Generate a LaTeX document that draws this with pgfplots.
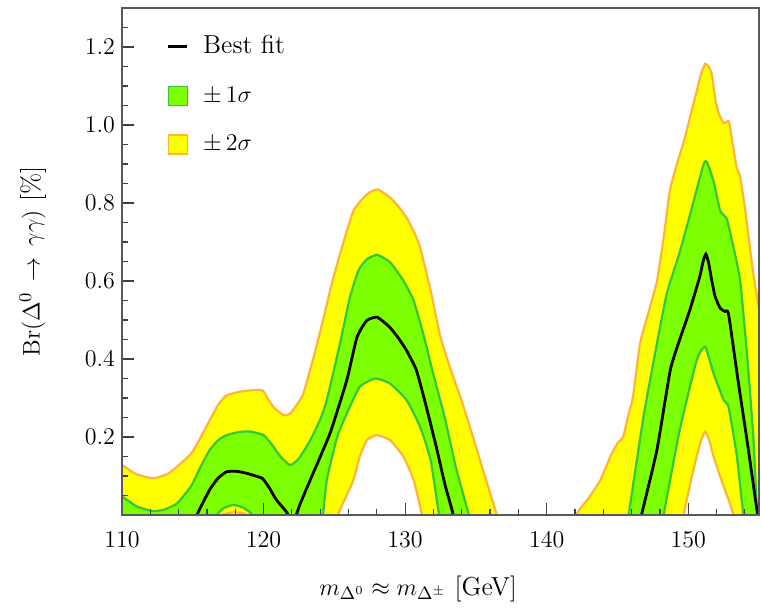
\documentclass[border=0pt]{standalone}
\usepackage{pgfplots}
\pgfplotsset{compat=1.18}
\usepackage{pgfplotstable}
\usepgfplotslibrary{fillbetween}

\definecolor{yfill}{RGB}{255,255,0}
\definecolor{gfill}{RGB}{124,255,0}
\definecolor{oedge}{RGB}{255,180,55}
\definecolor{gedge}{RGB}{50,200,60}

% 2 sigma upper
\pgfplotstableread{
x y
110 0.128
111 0.105
112.2 0.094
113.2 0.105
113.9 0.124
114.9 0.158
115.5 0.195
116.2 0.243
116.8 0.283
117.4 0.307
118.6 0.318
119.9 0.320
120.3 0.298
120.7 0.277
121.4 0.256
121.87 0.260
122.3 0.280
122.8 0.310
123.5 0.400
124.2 0.499
124.8 0.590
125.4 0.669
126.35 0.780
127.3 0.822
128.04 0.835
128.94 0.814
129.5 0.792
130.1 0.763
130.6 0.728
131.06 0.686
131.8 0.576
132.5 0.456
133.2 0.375
133.9 0.303
134.5 0.235
135.07 0.167
135.8 0.080
136.48 0.0
137.3 -0.12
141.2 -0.12
142.1 0.0
143.0 0.045
143.8 0.090
144.5 0.150
145.0 0.184
145.4 0.200
145.8 0.260
146.1 0.303
146.6 0.440
147.3 0.533
147.8 0.601
148.3 0.720
148.7 0.831
149.2 0.900
149.7 0.959
150.2 1.030
150.6 1.087
150.9 1.130
151.2 1.157
151.45 1.150
151.67 1.129
151.9 1.069
152.14 1.031
152.5 1.005
152.85 1.010
152.96 0.993
153.4 0.895
153.65 0.870
154.0 0.790
154.3 0.703
154.6 0.618
155 0.530
}\uTwo

% 2 sigma lower
\pgfplotstableread{
x y
110 -0.12
116.0 -0.12
116.8 -0.02
117.1 0.0
117.5 0.005
117.9 0.007
118.4 0.005
118.8 0.0
119.5 -0.06
124.4 -0.12
125.25 0.0
125.8 0.045
126.35 0.090
126.8 0.150
127.3 0.192
128.0 0.205
128.94 0.192
129.88 0.150
130.6 0.090
131.2 0.0
131.9 -0.12
149.0 -0.12
149.67 0.0
150.2 0.090
150.6 0.150
150.9 0.190
151.2 0.214
151.5 0.190
151.79 0.150
152.2 0.105
152.5 0.073
152.85 0.039
153.2 0.0
153.9 -0.12
155 -0.12
}\lTwo

% 1 sigma upper
\pgfplotstableread{
x y
110 0.048
111.04 0.022
112.2 0.010
113.0 0.014
113.9 0.030
114.9 0.075
115.5 0.120
116.2 0.167
116.8 0.192
117.4 0.205
118.3 0.213
119.05 0.214
120.0 0.205
120.6 0.180
121.2 0.150
121.87 0.128
122.5 0.145
123.3 0.192
124.0 0.245
124.47 0.295
125.4 0.440
126.1 0.558
126.7 0.627
127.3 0.656
128.04 0.667
128.94 0.648
129.88 0.601
130.6 0.550
131.3 0.462
132.0 0.360
132.8 0.250
133.6 0.120
134.5 0.0
135.2 -0.12
145.1 -0.12
145.78 0.0
146.84 0.252
147.79 0.440
148.5 0.570
149.36 0.669
150.2 0.780
151.08 0.899
151.32 0.905
151.79 0.856
152.26 0.780
152.73 0.759
153.2 0.686
153.67 0.601
154.15 0.414
154.6 0.200
154.85 0.013
155 -0.06
}\uOne

% 1 sigma lower
\pgfplotstableread{
x y
110 -0.12
116.0 -0.06
116.7 0.0
117.2 0.018
117.9 0.026
118.6 0.018
119.2 0.0
119.8 -0.06
123.8 -0.12
124.2 0.0
124.47 0.090
125.2 0.200
125.88 0.260
126.8 0.329
127.9 0.350
128.94 0.337
130.1 0.295
131.06 0.226
131.8 0.141
132.4 0.0
133.0 -0.12
147.6 -0.12
148.26 0.0
149.4 0.218
150.6 0.397
151.2 0.431
151.79 0.363
152.5 0.295
152.85 0.277
153.44 0.150
153.9 0.0
154.5 -0.12
155 -0.12
}\lOne

% best fit
\pgfplotstableread{
x y
110 -0.15
114.5 -0.10
115.3 0.0
116.2 0.065
116.8 0.095
117.4 0.111
118.1 0.112
118.8 0.107
119.9 0.094
120.4 0.070
120.9 0.039
121.6 0.009
121.9 -0.01
122.2 -0.01
122.6 0.030
123.3 0.090
124.7 0.210
125.88 0.346
126.6 0.456
127.3 0.499
128.04 0.507
128.9 0.482
129.5 0.455
130.1 0.422
130.8 0.371
131.5 0.277
132.2 0.175
132.8 0.080
133.4 0.0
134.0 -0.12
146.0 -0.12
146.7 0.0
147.79 0.167
148.73 0.371
149.4 0.450
150.1 0.524
150.8 0.609
151.05 0.650
151.25 0.669
151.45 0.645
151.67 0.600
151.9 0.560
152.26 0.530
152.6 0.522
152.85 0.515
153.5 0.350
154.2 0.180
154.85 0.014
155 -0.02
}\bestfit

\begin{document}
\begin{tikzpicture}
\begin{axis}[
  at={(61pt,43.5pt)}, anchor=south west,
  scale only axis, width=318.5pt, height=253.5pt,
  xmin=110, xmax=155, ymin=0, ymax=1.3,
  xtick={110,120,...,150},
  minor xtick={110,112,...,154},
  ytick={0.2,0.4,...,1.21},
  minor ytick={0,0.05,...,1.3},
  xtick pos=bottom, ytick pos=left,
  tick align=inside,
  major tick length=6pt, minor tick length=3pt,
  tick style={black!75, line width=0.6pt},
  axis line style={black!65, line width=0.9pt},
  axis on top,
  yticklabel style={/pgf/number format/.cd, fixed, fixed zerofill, precision=1},
  xticklabel style={yshift=-5pt},
  ticklabel style={font=\fontsize{13}{15}\selectfont},
  label style={font=\fontsize{13}{15}\selectfont},
  xlabel={$m_{\Delta^0}\approx m_{\Delta^\pm}$ [GeV]},
  ylabel={$\mathrm{Br}(\Delta^0\,\to\,\gamma\gamma)$ [\%]},
  xlabel style={at={(axis description cs:0.465,-0.145)}, anchor=center},
  ylabel style={at={(axis description cs:-0.14,0.5)}, anchor=center},
  legend style={at={(axis description cs:0.06,0.962)}, anchor=north west,
    draw=none, fill=none, row sep=11pt,
    font=\fontsize{13}{15}\selectfont,
    /tikz/every odd column/.append style={column sep=5pt}},
  legend cell align=left,
]
\addlegendimage{legend image code/.code={\draw[black, line width=1.8pt] (0pt,0pt) -- (9.5pt,0pt);}}
\addlegendentry{Best fit}
\addlegendimage{legend image code/.code={\draw[fill=gfill, draw=gedge, line width=0.7pt] (0pt,-4.75pt) rectangle (9.5pt,4.75pt);}}
\addlegendentry{$\pm\,1\sigma$}
\addlegendimage{legend image code/.code={\draw[fill=yfill, draw=oedge, line width=0.7pt] (0pt,-4.75pt) rectangle (9.5pt,4.75pt);}}
\addlegendentry{$\pm\,2\sigma$}

\addplot[draw=none, forget plot, smooth, tension=0.3, name path=U2] table[x=x,y=y]{\uTwo};
\addplot[draw=none, forget plot, smooth, tension=0.3, name path=L2] table[x=x,y=y]{\lTwo};
\addplot[fill=yfill, draw=none, forget plot] fill between[of=U2 and L2];
\addplot[draw=none, forget plot, smooth, tension=0.3, name path=U1] table[x=x,y=y]{\uOne};
\addplot[draw=none, forget plot, smooth, tension=0.3, name path=L1] table[x=x,y=y]{\lOne};
\addplot[fill=gfill, draw=none, forget plot] fill between[of=U1 and L1];

\addplot[oedge, line width=1.1pt, smooth, tension=0.3, forget plot] table[x=x,y=y]{\uTwo};
\addplot[oedge, line width=1.1pt, smooth, tension=0.3, forget plot] table[x=x,y=y]{\lTwo};
\addplot[gedge, line width=1.1pt, smooth, tension=0.3, forget plot] table[x=x,y=y]{\uOne};
\addplot[gedge, line width=1.1pt, smooth, tension=0.3, forget plot] table[x=x,y=y]{\lOne};
\addplot[black, line width=1.4pt, smooth, tension=0.3, forget plot] table[x=x,y=y]{\bestfit};
\end{axis}
\path (0,0) rectangle (380.5pt,301pt);
\end{tikzpicture}
\end{document}
